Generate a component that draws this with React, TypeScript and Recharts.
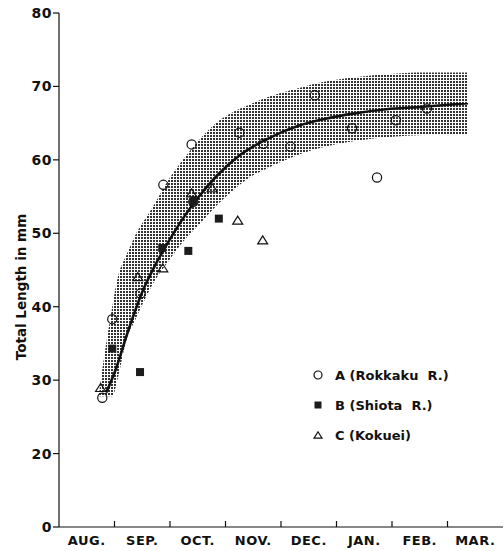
import { Area, ComposedChart, Line, Scatter, XAxis, YAxis } from "recharts"

// month axis: each month is one unit, labels sit in the middle of the interval
const months = ["AUG.", "SEP.", "OCT.", "NOV.", "DEC.", "JAN.", "FEB.", "MAR."]
const monthTicks = [0, 1, 2, 3, 4, 5, 6, 7]

const yTicks = [10, 20, 30, 40, 50, 60, 70, 80]
const yTickLabels = ["0", "20", "30", "40", "50", "60", "70", "80"]

// fitted growth curve (months since start of Aug., mm)
const curveMonths = [0.85, 1.0, 1.25, 1.5, 1.75, 2.0, 2.25, 2.5, 2.84, 3.25, 3.74, 4.34, 4.8, 5.3, 5.9, 6.5, 7.37]
const curveValues = [28.3, 31.0, 36.8, 42.0, 45.9, 49.2, 52.2, 54.8, 57.8, 60.6, 62.8, 64.7, 65.6, 66.3, 66.9, 67.2, 67.7]

// shaded range around the curve
const bandMonths = [0.72, 0.8, 0.87, 0.96, 1.05, 1.23, 1.36, 1.66, 2.0, 2.25, 2.5, 2.84, 3.13, 3.43, 3.74, 4.28, 4.75, 5.37, 5.96, 6.56, 7.37]
const bandHigh = [28.0, 32.5, 35.9, 40.0, 43.7, 47.3, 49.5, 53.2, 57.6, 60.2, 62.5, 65.1, 66.5, 67.5, 68.5, 69.7, 70.6, 71.3, 71.7, 71.9, 71.9]
const bandLow = [27.8, 27.8, 27.8, 27.8, 30.0, 35.9, 38.0, 42.7, 46.5, 49.0, 51.0, 53.8, 55.8, 57.6, 58.8, 60.6, 61.7, 62.6, 63.1, 63.4, 63.5]

// A (Rokkaku R.)
const aMonths = [0.78, 0.96, 1.47, 1.88, 2.39, 2.42, 3.25, 3.68, 4.17, 4.61, 5.28, 5.73, 6.07, 6.63]
const aValues = [27.6, 38.3, 41.8, 56.6, 62.1, 54.3, 63.7, 62.2, 61.8, 68.8, 64.3, 57.6, 65.4, 67.0]
// B (Shiota R.)
const bMonths = [0.96, 1.46, 1.86, 2.33, 2.42, 2.88]
const bValues = [34.3, 31.1, 48.0, 47.6, 54.3, 52.0]
// C (Kokuei)
const cMonths = [0.75, 1.42, 1.87, 2.39, 2.76, 3.22, 3.67]
const cValues = [29.0, 44.1, 45.3, 55.5, 56.2, 51.8, 49.1]

const W = 504
const H = 551
const MARGIN = { top: 13, right: 1, bottom: 0, left: 0 }
const Y_AXIS_W = 59
const X_AXIS_H = 24
const MONTH_PX = (W - MARGIN.left - MARGIN.right - Y_AXIS_W) / months.length

const INK = "#111"
const FONT = "'DejaVu Sans', sans-serif"

const curveData = curveMonths.map((m, i) => ({ m, v: curveValues[i] }))
const bandData = bandMonths.map((m, i) => ({ m, band: [bandLow[i], bandHigh[i]] }))
const toPoints = (ms: number[], vs: number[]) => ms.map((m, i) => ({ m, v: vs[i] }))

const Circle = ({ cx, cy, r = 4.6 }: any) => (
  <circle cx={cx} cy={cy} r={r} fill="none" stroke={INK} strokeWidth={1.2} />
)
const Square = ({ cx, cy, s = 8 }: any) => (
  <rect x={cx - s / 2} y={cy - s / 2} width={s} height={s} fill="#1c1c1c" />
)
const Triangle = ({ cx, cy, w = 10 }: any) => {
  const h = w * 0.8
  return (
    <polygon
      points={`${cx},${cy - h / 2} ${cx - w / 2},${cy + h / 2} ${cx + w / 2},${cy + h / 2}`}
      fill="none"
      stroke={INK}
      strokeWidth={1.2}
    />
  )
}

function MonthTick(props: any) {
  const { x, y, payload, index } = props
  return (
    <g>
      {index > 0 && <line x1={x} x2={x} y1={y - 6} y2={y} stroke={INK} strokeWidth={1.2} />}
      <text
        x={x + MONTH_PX / 2}
        y={y + 18}
        textAnchor="middle"
        fill={INK}
        fontSize={13}
        fontWeight="bold"
        fontFamily={FONT}
        letterSpacing={0.5}
      >
        {months[payload.value]}
      </text>
    </g>
  )
}

const legendRows = [
  { label: "A (Rokkaku  R.)", marker: <Circle cx={8} cy={8} r={4} /> },
  { label: "B (Shiota  R.)", marker: <Square cx={8} cy={8} s={7} /> },
  { label: "C (Kokuei)", marker: <Triangle cx={8} cy={8} w={8} /> },
]

export default function App() {
  return (
    <div style={{ position: "absolute", left: 0, top: 0, width: W, height: H, background: "#fff" }}>
      <ComposedChart width={W} height={H} margin={MARGIN}>
        <defs>
          <pattern id="stipple" width="3" height="3" patternUnits="userSpaceOnUse">
            <rect width="3" height="3" fill="#fff" />
            <rect x="0" y="0" width="2" height="2" fill="#333" />
          </pattern>
        </defs>
        <XAxis
          type="number"
          dataKey="m"
          domain={[0, 8]}
          ticks={monthTicks}
          allowDuplicatedCategory={false}
          height={X_AXIS_H}
          tickSize={0}
          tickMargin={0}
          tickLine={false}
          axisLine={{ stroke: INK, strokeWidth: 1.2 }}
          tick={<MonthTick />}
        />
        <YAxis
          type="number"
          domain={[10, 80]}
          ticks={yTicks}
          width={Y_AXIS_W}
          tickSize={6}
          tickMargin={1}
          tickFormatter={(v: number) => yTickLabels[yTicks.indexOf(v)]}
          axisLine={{ stroke: INK, strokeWidth: 1.2 }}
          tickLine={{ stroke: INK, strokeWidth: 1.2 }}
          tick={{ fill: INK, fontSize: 14, fontWeight: "bold", fontFamily: FONT, letterSpacing: 0.5 }}
          label={{
            content: () => (
              <text
                transform="translate(22,287) rotate(-90)"
                textAnchor="middle"
                dominantBaseline="middle"
                fill={INK}
                fontSize={13.5}
                fontWeight="bold"
                fontFamily={FONT}
              >
                Total Length in mm
              </text>
            ),
          }}
        />
        <Area
          data={bandData}
          dataKey="band"
          type="monotone"
          fill="url(#stipple)"
          fillOpacity={1}
          stroke="none"
          isAnimationActive={false}
          activeDot={false}
        />
        <Line
          data={curveData}
          dataKey="v"
          type="monotone"
          stroke={INK}
          strokeWidth={2.6}
          dot={false}
          activeDot={false}
          isAnimationActive={false}
        />
        <Scatter data={toPoints(aMonths, aValues)} dataKey="v" shape={<Circle />} isAnimationActive={false} />
        <Scatter data={toPoints(bMonths, bValues)} dataKey="v" shape={<Square />} isAnimationActive={false} />
        <Scatter data={toPoints(cMonths, cValues)} dataKey="v" shape={<Triangle />} isAnimationActive={false} />
      </ComposedChart>

      <div style={{ position: "absolute", left: 310, top: 360, fontFamily: FONT }}>
        {legendRows.map((r) => (
          <div key={r.label} style={{ display: "flex", alignItems: "center", height: 30 }}>
            <svg width={16} height={16}>{r.marker}</svg>
            <span style={{ marginLeft: 9, fontSize: 13, fontWeight: "bold", color: INK, whiteSpace: "pre" }}>
              {r.label}
            </span>
          </div>
        ))}
      </div>
    </div>
  )
}
